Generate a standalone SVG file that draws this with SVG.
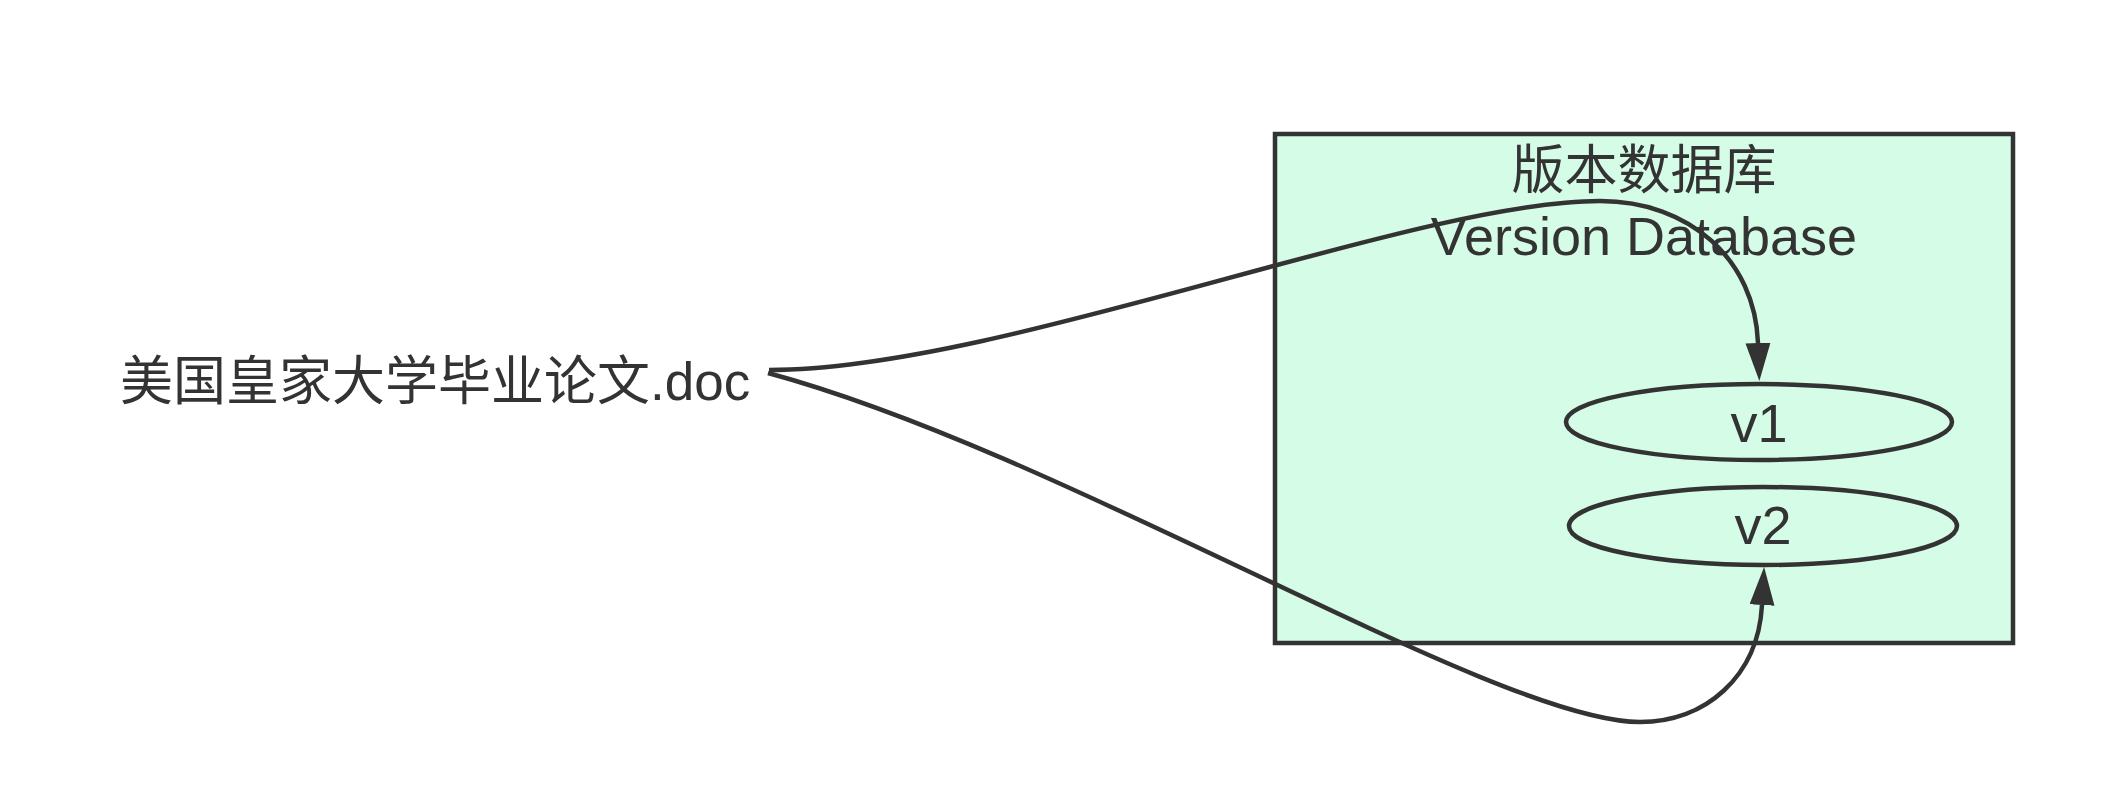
<svg xmlns="http://www.w3.org/2000/svg" width="2104" height="802" viewBox="0 0 2104 802">
  <style>
    .t { font-family: "Liberation Sans", "Noto Sans CJK SC", sans-serif; font-size: 53px; fill: #333333; }
    .en { font-size: 54px; }
    .shape { stroke: #333333; stroke-width: 4.5; fill: #d4fce6; }
    .edge { stroke: #333333; stroke-width: 4.5; fill: none; }
  </style>
  <defs>
    <marker id="arrow" markerUnits="userSpaceOnUse" markerWidth="40" markerHeight="26" refX="0" refY="12.5" orient="auto" viewBox="0 0 40 26">
      <path d="M0,0 L38,12.5 L0,25 Z" fill="#333333"/>
    </marker>
  </defs>
  <rect width="2104" height="802" fill="#ffffff"/>
  <g id="doc">
    <text class="t" x="120" y="400">美国皇家大学毕业论文.doc</text>
  </g>
  <g id="database">
    <rect class="shape" x="1275" y="134" width="738" height="509"/>
    <text class="t" x="1644" y="189" text-anchor="middle">版本数据库</text>
    <text class="t en" x="1644" y="255" text-anchor="middle">Version Database</text>
  </g>
  <g id="v1">
    <ellipse class="shape" cx="1759" cy="422" rx="193" ry="38"/>
    <text class="t en" x="1759" y="442" text-anchor="middle">v1</text>
  </g>
  <g id="v2">
    <ellipse class="shape" cx="1763" cy="526" rx="194" ry="39"/>
    <text class="t en" x="1763" y="544" text-anchor="middle">v2</text>
  </g>
  <g id="connectors">
    <path class="edge" d="M769,370 C1000,370 1414,201 1600,201 C1690,201 1755,260 1758,343" marker-end="url(#arrow)"/>
    <path class="edge" d="M768,373 C1068,454 1495,722 1640,722 C1705,722 1758,677 1762,605" marker-end="url(#arrow)"/>
  </g>
</svg>
